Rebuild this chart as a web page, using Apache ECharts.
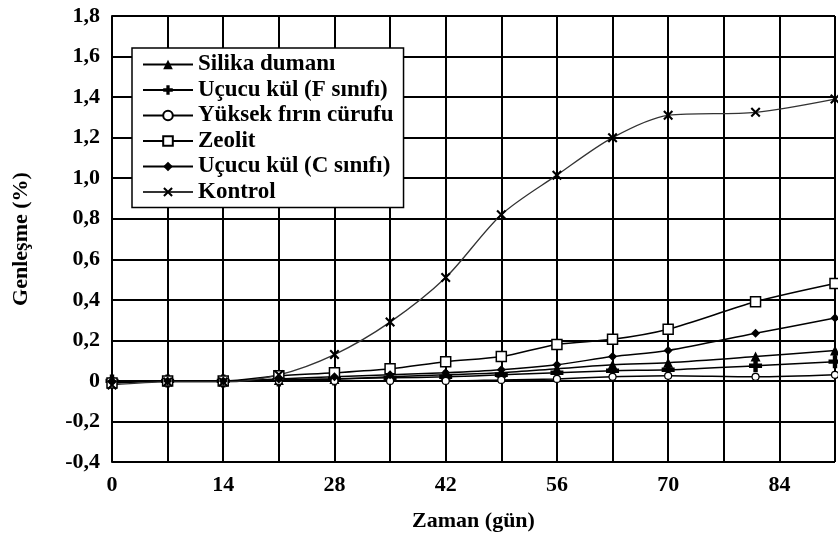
<!DOCTYPE html>
<html>
<head>
<meta charset="utf-8">
<script src="https://cdn.jsdelivr.net/npm/echarts@6/dist/echarts.min.js"></script>
<style>html,body{margin:0;padding:0;background:#fff;}#c{width:838px;height:537px;}</style>
</head>
<body>
<div id="c"></div>
<script>
const days = [0, 7, 14, 21, 28, 35, 42, 49, 56, 63, 70, 81, 91];
const silika = [-0.01, 0, 0, 0.005, 0.01, 0.02, 0.03, 0.04, 0.06, 0.08, 0.09, 0.12, 0.15];
const ucucuF = [0, 0, 0, 0.005, 0.01, 0.015, 0.02, 0.03, 0.04, 0.05, 0.055, 0.075, 0.095];
const yuksek = [0, 0, 0, 0, 0, 0, 0, 0.005, 0.01, 0.02, 0.025, 0.02, 0.03];
const zeolit = [-0.01, 0, 0, 0.025, 0.04, 0.06, 0.095, 0.12, 0.18, 0.205, 0.255, 0.39, 0.48];
const ucucuC = [0, 0, 0, 0.01, 0.02, 0.03, 0.04, 0.055, 0.08, 0.12, 0.15, 0.235, 0.31];
const kontrol = [-0.02, -0.005, -0.005, 0.03, 0.13, 0.29, 0.51, 0.82, 1.015, 1.20, 1.31, 1.325, 1.39];
const names = ['Silika dumanı', 'Uçucu kül (F sınıfı)', 'Yüksek fırın cürufu', 'Zeolit', 'Uçucu kül (C sınıfı)', 'Kontrol'];

const plusPath = 'path://M3.3,0 H6.7 V3.3 H10 V6.7 H6.7 V10 H3.3 V6.7 H0 V3.3 H3.3 Z';
const crossPath = 'path://M0,1.5 L1.5,0 L5,3.5 L8.5,0 L10,1.5 L6.5,5 L10,8.5 L8.5,10 L5,6.5 L1.5,10 L0,8.5 L3.5,5 Z';

const font = 'Liberation Serif';
function pairs(vals) { return days.map((d, i) => [d, vals[i]]); }
function mk(name, vals, symbol, size, opts) {
  opts = opts || {};
  return {
    name: name, type: 'line', data: pairs(vals), smooth: 0.3,
    symbol: symbol, symbolSize: size, showSymbol: true,
    lineStyle: { color: opts.line || '#000', width: opts.width || 1.5 },
    itemStyle: { color: opts.fill || '#000', borderColor: '#000', borderWidth: opts.bw || 0 },
    emphasis: { disabled: true }, animation: false
  };
}

const chart = echarts.init(document.getElementById('c'), null, { renderer: 'canvas' });
chart.setOption({
  backgroundColor: '#fff',
  animation: false,
  grid: { left: 112, right: 1, top: 16, bottom: 74, containLabel: false },
  legend: {
    orient: 'vertical', left: 132, top: 48,
    data: names,
    backgroundColor: '#fff', borderColor: '#000', borderWidth: 1.5,
    padding: [4, 10, 3, 10],
    itemWidth: 50, itemHeight: 12, itemGap: 0.5,
    textStyle: { fontFamily: font, fontWeight: 'bold', fontSize: 23, lineHeight: 25, color: '#000' }
  },
  xAxis: {
    type: 'value', min: 0, max: 91, interval: 7,
    name: 'Zaman (gün)', nameLocation: 'middle', nameGap: 48,
    nameTextStyle: { fontFamily: font, fontWeight: 'bold', fontSize: 22, color: '#000' },
    axisLine: { show: true, lineStyle: { color: '#000', width: 2 } },
    axisTick: { show: false },
    axisLabel: {
      margin: 12, fontFamily: font, fontWeight: 'bold', fontSize: 22, color: '#000',
      formatter: v => (v % 14 === 0 ? String(v) : '')
    },
    splitLine: { show: true, lineStyle: { color: '#000', width: 2 } }
  },
  yAxis: {
    type: 'value', min: -0.4, max: 1.8, interval: 0.2,
    name: 'Genleşme (%)', nameLocation: 'middle', nameGap: 80,
    nameTextStyle: { fontFamily: font, fontWeight: 'bold', fontSize: 22, color: '#000' },
    axisLine: { show: true, lineStyle: { color: '#000', width: 2 } },
    axisTick: { show: false },
    axisLabel: {
      margin: 12, fontFamily: font, fontWeight: 'bold', fontSize: 22, color: '#000',
      formatter: v => { const r = Math.round(v * 10) / 10; return r === 0 ? '0' : r.toFixed(1).replace('.', ','); }
    },
    splitLine: { show: true, lineStyle: { color: '#000', width: 2 } }
  },
  series: [
    mk(names[0], silika, 'triangle', 10),
    mk(names[1], ucucuF, plusPath, 13),
    mk(names[2], yuksek, 'circle', 7, { fill: '#fff', bw: 1.2 }),
    mk(names[3], zeolit, 'rect', 10, { fill: '#fff', bw: 1.5 }),
    mk(names[4], ucucuC, 'diamond', 9),
    mk(names[5], kontrol, crossPath, 10, { line: '#333', width: 1.3 })
  ]
});
</script>
</body>
</html>
